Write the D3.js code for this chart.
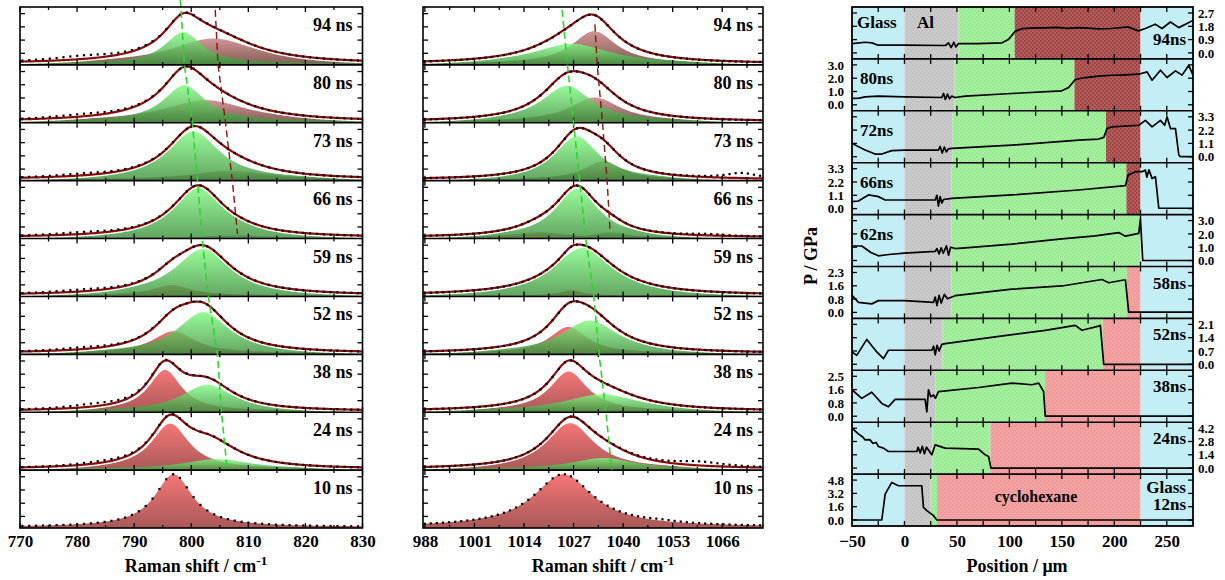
<!DOCTYPE html>
<html>
<head>
<meta charset="utf-8">
<script src="https://cdn.jsdelivr.net/npm/d3@7"></script>
<style>
  html, body { margin: 0; padding: 0; background: #fff; }
  svg { display: block; font-family: "Liberation Serif", "Times New Roman", serif; font-weight: bold; }
</style>
</head>
<body>
<svg id="fig" width="1225" height="580"></svg>
<script>
// ---------------- Raman spectra: fitted bands, [centre / cm-1, peak height, HWHM / cm-1] ----------------
const spectraTimes = ["94 ns", "80 ns", "73 ns", "66 ns", "59 ns", "52 ns", "38 ns", "24 ns", "10 ns"];
const fitShown = [true, true, true, true, true, true, true, true, false];

// ~800 cm-1 ring-breathing band
const ringTicks = [770, 780, 790, 800, 810, 820, 830];
const ringUnshocked = [null, null, null, null, [796.6, 0.2, 4], [796.9, 0.42, 4.5], [795.4, 0.78, 3.5], [796.3, 0.86, 4], [796.9, 1.0, 4]];
const ringShocked = [[798.6, 0.6, 4], [798.8, 0.69, 4.5], [800.4, 0.91, 5.5], [801.2, 0.97, 5.5], [802.1, 0.88, 6], [802.1, 0.78, 5.5], [802.8, 0.5, 5.5], [804.5, 0.19, 7], null];
const ringReleased = [[803.9, 0.48, 9], [802.5, 0.41, 9], [806.8, 0.17, 8], [808, 0.04, 6], null, null, null, null, null];
const ringUnassigned = [null, null, null, null, null, null, null, [803, 0.25, 5], null];
const ringBackground = [[781, 0.07, 7], [781, 0.05, 7], [781, 0.04, 7], [781, 0.04, 7], [781, 0.04, 7], [781, 0.04, 6], [783, 0.06, 6], [784, 0.04, 6], null];
// band position trends, [row coordinate, shift / cm-1]
const ringShockedTrend = [[-0.12, 798.1], [1, 798.8], [2, 800.2], [3, 801.1], [4, 801.9], [5, 803.0], [6, 804.6], [7, 805.3], [8, 806.3]];
const ringReleasedTrend = [[0.05, 804.2], [1, 804.7], [2, 806.0], [3, 807.2], [3.92, 808.1]];

// ~1027 cm-1 C-C stretching band
const stretchTicks = [988, 1001, 1014, 1027, 1040, 1053, 1066];
const stretchUnshocked = [null, null, null, [1018, 0.1, 8], [1026.4, 0.11, 3], [1025.6, 0.5, 6], [1025.7, 0.75, 6], [1026.1, 0.87, 7.5], [1024.3, 1.0, 9.5]];
const stretchShocked = [[1026.5, 0.38, 12], [1025.2, 0.68, 8], [1027.8, 0.82, 7], [1027.8, 0.92, 6.8], [1029.6, 0.9, 10], [1031.2, 0.62, 9], [1034.4, 0.32, 12], [1034.8, 0.21, 10], null];
const stretchReleased = [[1032.4, 0.62, 7], [1032.6, 0.46, 8], [1034.8, 0.35, 6], [1036.6, 0.1, 5], null, null, null, null, null];
const stretchUnassigned = [null, null, null, null, null, null, null, null, null];
const stretchBackground = [null, null, [1071, 0.1, 5], [1062, 0.03, 6], null, null, null, [1060, 0.08, 8], [1050, 0.03, 6]];
const stretchShockedTrend = [[0.05, 1024.0], [1, 1025.4], [2, 1027.0], [3, 1028.6], [4, 1030.2], [5, 1032.3], [6, 1033.7], [7, 1035.5], [8, 1037.0]];
const stretchReleasedTrend = [[0.3, 1032.6], [1, 1033.2], [2, 1034.6], [3, 1035.8], [3.9, 1036.6]];

// ---------------- Pressure profiles ----------------
const profileTimes = ["94ns", "80ns", "72ns", "66ns", "62ns", "58ns", "52ns", "38ns", "24ns", "12ns"];
const positionTicks = [-50, 0, 50, 100, 150, 200, 250];
const pressureStep = [0.9, 1.0, 1.1, 1.1, 1.0, 0.78, 0.7, 0.82, 1.4, 1.6];   // GPa between scale marks
const alEdge = [51.5, 47.7, 45.8, 44.5, 44.5, 44.5, 36.3, 29.3, 26.7, 25];      // Al / cyclohexane interface, um
const shockEdge = [105, 162, 192, 211.5, 225, 212, 189, 134, 82, 31];            // end of shocked layer, um
const beyondShock = ["released", "released", "released", "released", "released", "unshocked", "unshocked", "unshocked", "unshocked", "unshocked"];
const rearGlassEdge = 225;

const p94 = [[-50,0.63],[-37.5,0.72],[-31,0.68],[-25,0.52],[0,0.52],[39,0.5],[42,0.68],[44.5,0.36],[47,0.72],[49,0.4],[51.5,0.63],[70,0.63],[93,0.68],[99,0.9],[105.6,1.46],[112,1.64],[125,1.7],[134,1.69],[145,1.73],[155,1.66],[166,1.71],[175,1.68],[185,1.62],[197,1.65],[205,1.7],[213,1.76],[223,1.49],[229.6,1.65],[239,1.94],[245.5,1.65],[253.5,2.09],[261.5,1.71],[275,2.2]];
const p80 = [[-50,0.48],[-43,0.5],[-37.5,0.6],[-25,0.65],[0,0.6],[35.6,0.55],[37.2,0.85],[39,0.4],[41,0.8],[43,0.45],[45,0.65],[48.3,0.55],[58,0.65],[102,0.85],[150,1.05],[156.5,1.3],[162.8,1.9],[172.4,2.05],[185,2.15],[197.8,2.22],[210,2.25],[223.3,2.3],[231.2,2.48],[236,1.85],[244,2.6],[250.3,2.05],[258.3,2.55],[264.6,2.23],[271,2.97],[275,2.23]];
const p72 = [[-50,1.1],[-37.5,0.55],[-28,0.22],[-21.6,0.22],[-12.1,0.5],[0,0.55],[32.4,0.55],[34,0.85],[36,0.3],[38,0.8],[40,0.4],[42,0.65],[45.2,0.69],[102.4,0.96],[166,1.37],[185.1,1.46],[190,1.6],[193.1,2.33],[197.8,2.47],[223.3,2.6],[229.6,3.0],[236,2.47],[244,3.0],[248,2.6],[250.3,3.3],[253.5,2.33],[258.3,2.33],[261.5,0.14],[263,0],[275,0]];
const p66 = [[-50,0.58],[-43.9,0.63],[-34.4,1.13],[-24.8,0.99],[-18.4,0.71],[0,0.71],[29.3,0.71],[30.9,1.1],[32.4,0.2],[34,1.0],[35.6,0.45],[37.2,0.75],[45.2,0.85],[102.4,1.13],[166,1.54],[210.6,1.9],[213.1,2.77],[220.1,3.05],[226.5,3.05],[229.6,3.19],[231,2.6],[233,3.2],[236,2.5],[239.2,2.64],[242.4,0.03],[275,0.03]];
const p62 = [[-50,1.09],[-40.7,1.09],[-32,0.6],[-24.8,0.35],[-15,0.45],[0,0.55],[29.3,0.68],[31,0.9],[33,0.5],[35,0.95],[37,0.55],[40,1.1],[42,0.4],[44,1.0],[48.3,0.9],[57.9,0.95],[102.4,1.23],[150,1.63],[181.9,1.85],[204.2,2.1],[210.6,1.83],[223.3,2.04],[224.9,3.13],[227.1,0],[275,0]];
const p58 = [[-50,1.0],[-43.9,0.59],[-31.2,0.5],[-24.8,0.69],[0,0.69],[27.7,0.59],[29.3,0.9],[31,0.4],[33,1.0],[35,0.55],[38,1.05],[41,0.8],[48.3,0.98],[102.4,1.36],[150.1,1.55],[188.3,1.93],[194.7,1.74],[209,1.9],[210.6,1.9],[213.7,0.02],[275,0.02]];
const p52 = [[-50,0.65],[-45.5,0.47],[-35.9,1.31],[-26.4,0.65],[-20,0.3],[-15.3,0.74],[0,0.74],[26.1,0.74],[27.7,0.95],[29.3,0.5],[31,1.0],[33,0.7],[35.6,1.05],[38.8,1.09],[86.5,1.44],[134.2,1.79],[162.8,2.05],[169.2,1.79],[185.1,2.01],[186.7,2.05],[189.9,0],[275,0]];
const p38 = [[-50,1.63],[-40.7,1.1],[-31.2,1.48],[-21.6,0.79],[-15.3,0.58],[-8.9,1.04],[0,1.04],[19.7,1.04],[21.3,0.27],[22.9,1.63],[25,1.2],[27.7,1.31],[29.5,1.1],[32.4,1.52],[70.6,1.77],[102.4,2.04],[121.5,1.94],[127.9,2.04],[132.6,1.52],[134.2,0],[275,0]];
const p24 = [[-50,4.2],[-44,3.6],[-40,3.3],[-37.5,2.97],[-33,3.0],[-30,2.6],[-27,2.7],[-24.8,2.27],[-20,2.1],[-15.3,1.75],[0,1.75],[11.8,1.75],[13,2.2],[15,1.6],[17,2.3],[19,1.5],[21,2.2],[26.1,1.4],[29.3,2.45],[38.8,2.1],[55,2.05],[70.6,2.0],[77,1.4],[80.2,1.22],[82.4,0],[275,0]];
const p12 = [[-50,0],[-21.6,0],[-18.4,3.12],[-12.1,4.52],[-5.7,4.12],[16.5,4.12],[18.1,1.52],[21.3,1.12],[27.7,0.52],[30.9,0],[275,0]];
const profiles = [p94, p80, p72, p66, p62, p58, p52, p38, p24, p12];

// ---------------- drawing ----------------
const svg = d3.select("#fig");
const defs = svg.append("defs");

function vGradient(id, top, bottom) {
  const g = defs.append("linearGradient").attr("id", id).attr("x1", 0).attr("y1", 0).attr("x2", 0).attr("y2", 1);
  g.append("stop").attr("offset", 0).attr("stop-color", top);
  g.append("stop").attr("offset", 1).attr("stop-color", bottom);
}
vGradient("gRed", "#f56a6a", "#a04a4a");
vGradient("gGreen", "#7ffa7f", "#3a8c3a");
vGradient("gDark", "#cc8a8a", "#70493e");

function texture(id, base, dot) {
  const p = defs.append("pattern").attr("id", id).attr("width", 4).attr("height", 4).attr("patternUnits", "userSpaceOnUse");
  p.append("rect").attr("width", 4).attr("height", 4).attr("fill", base);
  p.append("rect").attr("x", 0).attr("y", 0).attr("width", 1.5).attr("height", 1.5).attr("fill", dot);
  p.append("rect").attr("x", 2).attr("y", 2).attr("width", 1.5).attr("height", 1.5).attr("fill", dot);
}
texture("tGreen", "#a6f1a0", "#93e18c");
texture("tReleased", "#b65a5a", "#8b3a3a");
texture("tUnshocked", "#f5a4a4", "#ea9393");
texture("tAl", "#cbcbcb", "#bcbcbc");
const glassFill = "#c3eef6";

const lor = (v, p) => p ? p[1] / (1 + ((v - p[0]) / p[2]) ** 2) : 0;

function spectraPanel(o) {
  const x = o.x, [d0, d1] = x.domain(), [r0, r1] = x.range();
  const top = 7, bottom = 528, n = spectraTimes.length, rh = (bottom - top) / n;
  const g = svg.append("g");
  const grid = d3.range(d0, d1 + 1e-6, 0.2);
  const dotsX = d3.range(d0 + 0.4, d1, o.dotStep);

  spectraTimes.forEach((label, i) => {
    const rt = top + i * rh, rb = rt + rh;
    const y = d3.scaleLinear().domain([0, 1]).range([rb - 1, rt + 4]);
    const clipId = o.id + "-clip-" + i;
    defs.append("clipPath").attr("id", clipId)
      .append("rect").attr("x", r0).attr("y", rt).attr("width", r1 - r0).attr("height", rh);
    const rg = g.append("g").attr("clip-path", `url(#${clipId})`);

    const area = p => d3.area().x(v => x(v)).y0(rb + 1).y1(v => y(lor(v, p)));
    [[o.released[i], "url(#gDark)", 0.9], [o.unshocked[i], "url(#gRed)", 0.92], [o.shocked[i], "url(#gGreen)", 0.8]]
      .forEach(([p, fill, op]) => {
        if (!p) return;
        rg.append("path").datum(grid).attr("d", area(p)).attr("fill", fill).attr("fill-opacity", op);
      });

    const total = v => lor(v, o.unshocked[i]) + lor(v, o.shocked[i]) + lor(v, o.released[i]) + lor(v, o.unassigned[i]);
    if (fitShown[i]) {
      const line = d3.line().x(v => x(v)).y(v => y(total(v)));
      rg.append("path").datum(grid).attr("d", line).attr("fill", "none").attr("stroke", "#fff").attr("stroke-width", 5);
      rg.append("path").datum(grid).attr("d", line).attr("fill", "none").attr("stroke", "#8a0c0c").attr("stroke-width", 2.2);
    }
    rg.selectAll("rect.pt").data(dotsX).join("rect").attr("class", "pt")
      .attr("x", v => x(v) - 1).attr("y", v => y(total(v) + lor(v, o.background[i])) - 1)
      .attr("width", 2.2).attr("height", 2.2).attr("fill", "#000");

    // inward ticks on every strip
    const major = o.ticks, step = o.ticks[1] - o.ticks[0];
    const minor = major.map(t => t + step / 2).filter(t => t < d1);
    const tk = g.append("g").attr("stroke", "#000").attr("stroke-width", 1.3);
    [[major, 5], [minor, 3]].forEach(([vals, len]) => {
      vals.forEach(v => {
        tk.append("line").attr("x1", x(v)).attr("x2", x(v)).attr("y1", rt).attr("y2", rt + len);
        tk.append("line").attr("x1", x(v)).attr("x2", x(v)).attr("y1", rb).attr("y2", rb - len);
      });
    });
    [0.2, 0.45, 0.7, 0.95].forEach(v => {
      tk.append("line").attr("x1", r0).attr("x2", r0 + 5).attr("y1", y(v)).attr("y2", y(v));
      tk.append("line").attr("x1", r1).attr("x2", r1 - 5).attr("y1", y(v)).attr("y2", y(v));
    });
    g.append("text").attr("x", r1 - 10).attr("y", rt + 24).attr("text-anchor", "end")
      .attr("font-size", 18).text(label);
    if (i > 0) g.append("line").attr("x1", r0).attr("x2", r1).attr("y1", rt).attr("y2", rt)
      .attr("stroke", "#000").attr("stroke-width", 1.6);
  });

  // band-position trends
  const trend = d3.line().x(d => x(d[1])).y(d => top + d[0] * rh);
  g.append("path").datum(o.shockedTrend).attr("d", trend).attr("fill", "none")
    .attr("stroke", "#2fd42f").attr("stroke-width", 1.6).attr("stroke-dasharray", "7,4");
  g.append("path").datum(o.releasedTrend).attr("d", trend).attr("fill", "none")
    .attr("stroke", "#8b1414").attr("stroke-width", 1.4).attr("stroke-dasharray", "7,4");

  g.append("rect").attr("x", r0).attr("y", top).attr("width", r1 - r0).attr("height", bottom - top)
    .attr("fill", "none").attr("stroke", "#000").attr("stroke-width", 1.6);

  const ax = g.append("g").attr("transform", `translate(0,${bottom})`)
    .call(d3.axisBottom(x).tickValues(o.ticks).tickSize(0).tickPadding(7).tickFormat(d3.format("d")));
  ax.select(".domain").remove();
  ax.attr("font-family", null).attr("font-size", 17).selectAll("text").attr("fill", "#000");

  const t = g.append("text").attr("x", o.titleX).attr("y", 572).attr("text-anchor", "middle").attr("font-size", 18);
  t.append("tspan").text("Raman shift / cm");
  t.append("tspan").attr("dy", -7).attr("font-size", 13).text("-1");
}

spectraPanel({
  id: "ring", x: d3.scaleLinear().domain([770, 830]).range([20, 362.5]), ticks: ringTicks, dotStep: 1.2,
  unshocked: ringUnshocked, shocked: ringShocked, released: ringReleased, unassigned: ringUnassigned,
  background: ringBackground, shockedTrend: ringShockedTrend, releasedTrend: ringReleasedTrend, titleX: 196
});
spectraPanel({
  id: "stretch", x: d3.scaleLinear().domain([987.5, 1076.7]).range([423, 763]), ticks: stretchTicks, dotStep: 1.6,
  unshocked: stretchUnshocked, shocked: stretchShocked, released: stretchReleased, unassigned: stretchUnassigned,
  background: stretchBackground, shockedTrend: stretchShockedTrend, releasedTrend: stretchReleasedTrend, titleX: 603
});

// ---------------- pressure profile panel ----------------
(function () {
  const x = d3.scaleLinear().domain([-50, 275]).range([852, 1193]);
  const [r0, r1] = x.range();
  const top = 7, bottom = 526, n = profileTimes.length, rh = (bottom - top) / n;
  const g = svg.append("g");
  const fills = { released: "url(#tReleased)", unshocked: "url(#tUnshocked)" };

  profileTimes.forEach((label, i) => {
    const rt = top + i * rh, rb = rt + rh;
    const ticks = [0, 1, 2, 3].map(k => k * pressureStep[i]);
    const y = d3.scaleLinear().domain([0, ticks[3]]).range([rb - 6, rt + 6]);
    const bands = [
      [-50, 0, glassFill], [0, alEdge[i], "url(#tAl)"], [alEdge[i], shockEdge[i], "url(#tGreen)"],
      [shockEdge[i], rearGlassEdge, fills[beyondShock[i]]], [rearGlassEdge, 275, glassFill]
    ];
    bands.forEach(([a, b, f]) => {
      if (b <= a) return;
      g.append("rect").attr("x", x(a)).attr("y", rt).attr("width", x(b) - x(a)).attr("height", rh).attr("fill", f);
    });
    const clipId = "prof-clip-" + i;
    defs.append("clipPath").attr("id", clipId)
      .append("rect").attr("x", r0).attr("y", rt).attr("width", r1 - r0).attr("height", rh);
    g.append("path").datum(profiles[i]).attr("clip-path", `url(#${clipId})`)
      .attr("d", d3.line().x(d => x(d[0])).y(d => y(d[1])))
      .attr("fill", "none").attr("stroke", "#000").attr("stroke-width", 1.7).attr("stroke-linejoin", "round");

    const tk = g.append("g").attr("stroke", "#000").attr("stroke-width", 1.3);
    d3.range(-25, 275, 25).forEach(v => {
      tk.append("line").attr("x1", x(v)).attr("x2", x(v)).attr("y1", rt).attr("y2", rt + 5);
      tk.append("line").attr("x1", x(v)).attr("x2", x(v)).attr("y1", rb).attr("y2", rb - 5);
    });
    ticks.forEach(v => {
      tk.append("line").attr("x1", r0).attr("x2", r0 + 5).attr("y1", y(v)).attr("y2", y(v));
      tk.append("line").attr("x1", r1).attr("x2", r1 - 5).attr("y1", y(v)).attr("y2", y(v));
    });

    // pressure scale, alternating sides
    const onRight = i % 2 === 0;
    const axis = (onRight ? d3.axisRight(y) : d3.axisLeft(y)).tickValues(ticks).tickSize(0).tickPadding(onRight ? 5 : 8)
      .tickFormat(d3.format(".1f"));
    const ag = g.append("g").attr("transform", `translate(${onRight ? r1 : r0},0)`).call(axis);
    ag.select(".domain").remove();
    ag.attr("font-family", null).attr("font-size", 13).selectAll("text").attr("fill", "#000");

    if (i > 0) g.append("line").attr("x1", r0).attr("x2", r1).attr("y1", rt).attr("y2", rt)
      .attr("stroke", "#000").attr("stroke-width", 1.6);
  });

  // layer and time annotations
  const row = i => top + i * rh;
  const txt = (s, xx, yy, anchor, size) => g.append("text").attr("x", xx).attr("y", yy)
    .attr("text-anchor", anchor).attr("font-size", size || 17).text(s);
  txt("Glass", 857, row(0) + 21, "start");
  txt("Al", 917, row(0) + 21, "start");
  txt(profileTimes[0], 1186, row(0) + 38, "end");
  [1, 2, 3, 4].forEach(i => txt(profileTimes[i], 860, row(i) + 25, "start"));
  [5, 6, 7, 8].forEach(i => txt(profileTimes[i], 1186, row(i) + 22, "end"));
  txt("Glass", 1186, row(9) + 19, "end");
  txt(profileTimes[9], 1186, row(9) + 36, "end");
  txt("cyclohexane", 1036, row(9) + 28, "middle", 16);

  g.append("rect").attr("x", r0).attr("y", top).attr("width", r1 - r0).attr("height", bottom - top)
    .attr("fill", "none").attr("stroke", "#000").attr("stroke-width", 1.8);

  const ax = g.append("g").attr("transform", `translate(0,${bottom})`)
    .call(d3.axisBottom(x).tickValues(positionTicks).tickSize(0).tickPadding(9).tickFormat(d3.format("d")));
  ax.select(".domain").remove();
  ax.attr("font-family", null).attr("font-size", 17).selectAll("text").attr("fill", "#000");

  g.append("text").attr("x", 1017).attr("y", 572).attr("text-anchor", "middle").attr("font-size", 18)
    .text("Position / \u03bcm");
  g.append("text").attr("transform", "translate(817,256) rotate(-90)").attr("text-anchor", "middle")
    .attr("font-size", 18).text("P / GPa");
})();
</script>
</body>
</html>
